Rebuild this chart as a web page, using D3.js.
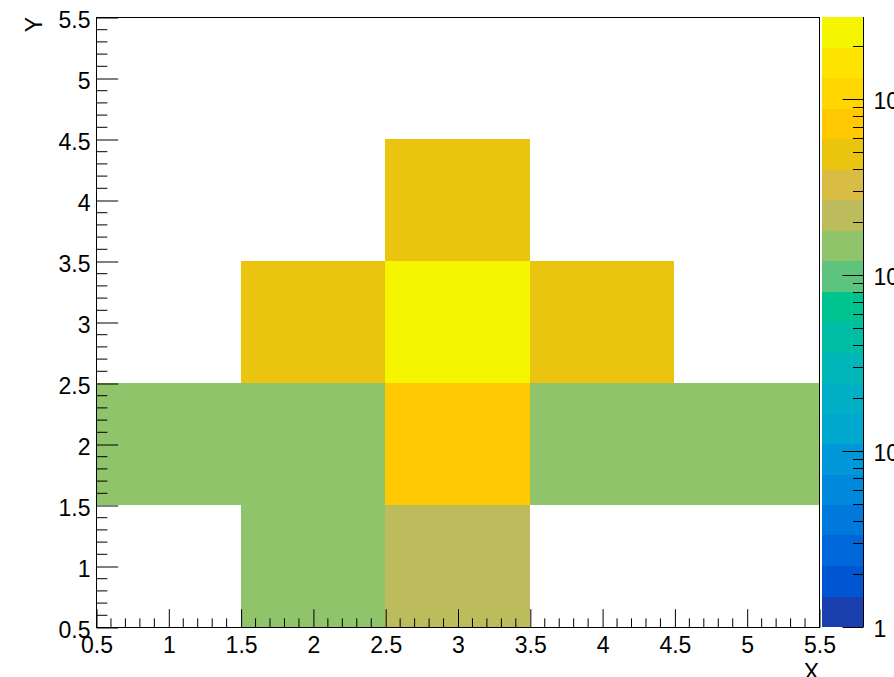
<!DOCTYPE html>
<html>
<head>
<meta charset="utf-8">
<script src="https://cdn.jsdelivr.net/npm/d3@7"></script>
<style>
  html, body { margin: 0; padding: 0; background: #fff; }
  svg { display: block; }
  text { font-family: "Liberation Sans", Arial, Helvetica, sans-serif; fill: #000; }
</style>
</head>
<body>
<svg id="chart" width="894" height="677"></svg>
<script>
// Bin centres along each axis (5 x 5 bins from 0.5 to 5.5)
const xBins = [1, 2, 3, 4, 5];
const yBins = [1, 2, 3, 4, 5];
// Bin contents, one row per y bin (bottom row first)
const counts = [
  [0, 150, 220, 0, 0],
  [140, 150, 720, 145, 135],
  [0, 480, 2940, 490, 0],
  [0, 0, 470, 0, 0],
  [0, 0, 0, 0, 0]
];
const xTicks = [0.5, 1, 1.5, 2, 2.5, 3, 3.5, 4, 4.5, 5, 5.5];
const yTicks = [0.5, 1, 1.5, 2, 2.5, 3, 3.5, 4, 4.5, 5, 5.5];
// Palette bands, lowest to highest (20 contour levels)
const palette = [
  "#1a40b0", "#0055d2", "#0067da", "#0079dd", "#0088dc",
  "#0097d8", "#00a8cf", "#00afc6", "#00b6b8", "#00bda6",
  "#00c490", "#5dc47d", "#8fc46a", "#bdbc5d", "#d9bc44",
  "#ebc40f", "#ffc800", "#ffd600", "#ffe400", "#f5f500"
];

const FONT = 23;
const svg = d3.select("#chart");
const frame = { left: 96, right: 819, top: 17, bottom: 627 };
const pal = { left: 822, right: 863 };

const x = d3.scaleLinear().domain([0.5, 5.5]).range([frame.left, frame.right]);
const y = d3.scaleLinear().domain([0.5, 5.5]).range([frame.bottom, frame.top]);

const zMax = d3.max(counts.flat());
const z = d3.scaleLog().domain([1, zMax]).range([frame.bottom, frame.top]);
const colour = d3.scaleQuantize().domain([0, Math.log10(zMax)]).range(palette);

// Cells
const cells = [];
counts.forEach((row, j) => row.forEach((v, i) => {
  if (v > 0) cells.push({ cx: xBins[i], cy: yBins[j], v });
}));
svg.append("g").attr("shape-rendering", "crispEdges")
  .selectAll("rect").data(cells).join("rect")
  .attr("x", d => Math.round(x(d.cx - 0.5)))
  .attr("y", d => Math.round(y(d.cy + 0.5)))
  .attr("width", d => Math.round(x(d.cx + 0.5)) - Math.round(x(d.cx - 0.5)))
  .attr("height", d => Math.round(y(d.cy - 0.5)) - Math.round(y(d.cy + 0.5)))
  .attr("fill", d => colour(Math.min(Math.log10(d.v), Math.log10(zMax) - 1e-9)));

// Frame
svg.append("rect")
  .attr("x", frame.left + 0.5).attr("y", frame.top + 0.5)
  .attr("width", frame.right - frame.left).attr("height", frame.bottom - frame.top)
  .attr("fill", "none").attr("stroke", "#000").attr("stroke-width", 1);

const fmt = d => String(+d.toFixed(1));
const xLen = 0.03 * (frame.bottom - frame.top);
const yLen = 0.03 * (frame.right - frame.left);

// X axis
const gx = svg.append("g").attr("transform", `translate(0.5,${frame.bottom + 0.5})`)
  .call(d3.axisBottom(x).tickValues(xTicks).tickFormat(fmt)
    .tickSizeInner(-xLen).tickSizeOuter(0).tickPadding(9));
gx.select(".domain").remove();
gx.selectAll("text").attr("font-size", FONT).attr("font-family", null);
const xMinor = d3.range(0.5, 5.5001, 0.1).filter(v => Math.abs(v * 2 - Math.round(v * 2)) > 1e-6);
gx.selectAll(".minor").data(xMinor).join("line").attr("class", "minor")
  .attr("x1", d => x(d)).attr("x2", d => x(d))
  .attr("y1", 0).attr("y2", -xLen / 2).attr("stroke", "#000");

// Y axis
const gy = svg.append("g").attr("transform", `translate(${frame.left + 0.5},0.5)`)
  .call(d3.axisLeft(y).tickValues(yTicks).tickFormat(fmt)
    .tickSizeInner(-yLen).tickSizeOuter(0).tickPadding(6));
gy.select(".domain").remove();
gy.selectAll("text").attr("font-size", FONT).attr("font-family", null).attr("dy", "0.42em");
const yMinor = d3.range(0.5, 5.5001, 0.1).filter(v => Math.abs(v * 2 - Math.round(v * 2)) > 1e-6);
gy.selectAll(".minor").data(yMinor).join("line").attr("class", "minor")
  .attr("y1", d => y(d)).attr("y2", d => y(d))
  .attr("x1", 0).attr("x2", yLen / 2).attr("stroke", "#000");

// Axis titles
svg.append("text").attr("x", frame.right).attr("y", 680)
  .attr("text-anchor", "end").attr("font-size", FONT).text("X");
svg.append("text").attr("transform", `translate(42,${frame.top}) rotate(-90)`)
  .attr("text-anchor", "end").attr("font-size", FONT).text("Y");

// Colour palette
const nBands = palette.length;
const logMax = Math.log10(zMax);
svg.append("g").attr("shape-rendering", "crispEdges")
  .selectAll("rect").data(palette).join("rect")
  .attr("x", pal.left)
  .attr("y", (c, k) => Math.round(z(Math.pow(10, (k + 1) * logMax / nBands))))
  .attr("width", pal.right - pal.left)
  .attr("height", (c, k) => Math.round(z(Math.pow(10, k * logMax / nBands))) - Math.round(z(Math.pow(10, (k + 1) * logMax / nBands))))
  .attr("fill", c => c);

const gz = svg.append("g").attr("transform", `translate(${pal.right + 0.5},0)`);
gz.append("line").attr("x1", 0).attr("x2", 0)
  .attr("y1", frame.top).attr("y2", frame.bottom).attr("stroke", "#000");
const zTicks = [];
for (let e = 0; e <= 3; e++) {
  for (let m = 1; m <= 9; m++) {
    const v = m * Math.pow(10, e);
    if (v <= zMax) zTicks.push({ v, major: m === 1, e });
  }
}
gz.selectAll(".tick").data(zTicks).join("line").attr("class", "tick")
  .attr("x1", 0).attr("x2", d => d.major ? -21 : -10.5)
  .attr("y1", d => Math.round(z(d.v)) + 0.5).attr("y2", d => Math.round(z(d.v)) + 0.5)
  .attr("stroke", "#000");
const zl = gz.selectAll(".lab").data(zTicks.filter(d => d.major)).join("text").attr("class", "lab")
  .attr("x", 10).attr("y", d => z(d.v)).attr("dy", "0.42em").attr("font-size", FONT);
zl.each(function (d) {
  const t = d3.select(this);
  if (d.e === 0) { t.text("1"); return; }
  t.append("tspan").text("10");
  if (d.e > 1) t.append("tspan").attr("dy", "-0.6em").attr("font-size", 15).text(d.e);
});
</script>
</body>
</html>
